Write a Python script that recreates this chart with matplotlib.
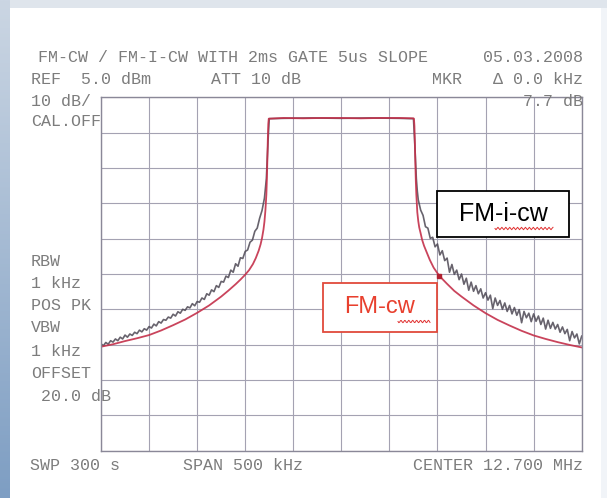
import matplotlib
matplotlib.use('Agg')
import matplotlib.pyplot as plt
from matplotlib.patches import Rectangle
import numpy as np

# trace data, offset from center frequency in kHz and level in dBm
red_khz = [-250, -237.5, -225, -212.5, -200, -187.5, -175, -162.5, -150, -137.5,
           -125, -117.5, -110, -105, -100, -96, -92, -89, -86, -84,
           -82.5, -81, -80, -79, -78, -77.5, -77, -76.5, -76, -75.5,
           -60, -40, -20, 0, 20, 40, 60, 75,
           75.5, 76, 76.5, 77, 77.5, 78, 79, 80, 81, 82.5,
           84, 86, 89, 92, 96, 100, 105, 110, 117.5, 125,
           137.5, 150, 162.5, 175, 187.5, 200, 212.5, 225, 237.5, 250]
red_dbm = [-65.6, -64.9, -64.0, -63.2, -62.3, -61.0, -59.5, -57.9, -56.0, -53.9,
           -51.4, -49.7, -47.9, -46.6, -45.2, -43.9, -42.2, -40.5, -38.4, -36.6,
           -34.8, -32.4, -30.2, -27.0, -22.5, -18.5, -13.0, -7.0, -2.5, -1.0,
           -0.8, -0.9, -0.8, -0.8, -0.9, -0.8, -0.8, -0.9,
           -1.0, -3.0, -8.0, -14.0, -19.0, -22.5, -27.5, -30.0, -31.8, -33.5,
           -35.3, -37.0, -39.0, -41.0, -43.2, -44.8, -46.4, -47.8, -49.8, -51.4,
           -53.9, -56.1, -58.0, -59.6, -61.1, -62.4, -63.4, -64.3, -65.1, -65.8]

gray_left_khz = [-250, -247.5, -245, -242.5, -240, -237.5, -235, -232.5, -230, -227.5,
                 -225, -222.5, -220, -217.5, -215, -212.5, -210, -207.5, -205, -202.5,
                 -200, -197.5, -195, -192.5, -190, -187.5, -185, -182.5, -180, -177.5,
                 -175, -172.5, -170, -167.5, -165, -162.5, -160, -157.5, -155, -152.5,
                 -150, -147.5, -145, -142.5, -140, -137.5, -135, -132.5, -130, -127.5,
                 -125, -122.5, -120, -117.5, -115, -112.5, -110, -107.5, -105, -102.5,
                 -100, -97.5, -95, -92.5, -90, -87.5, -85, -82.5, -80, -78,
                 -77, -76, -75]
gray_left_dbm = [-64.8, -65.3, -64.4, -64.9, -63.9, -64.3, -63.4, -63.9, -62.9, -63.4,
                 -62.3, -62.9, -62.0, -62.4, -61.5, -61.9, -60.9, -61.4, -60.5, -60.9,
                 -59.9, -60.3, -59.2, -59.7, -58.5, -58.9, -57.9, -58.1, -57.2, -57.5,
                 -56.4, -56.9, -55.7, -56.1, -55.0, -55.3, -54.3, -54.6, -53.4, -54.0,
                 -52.8, -53.0, -51.8, -52.2, -50.6, -51.0, -49.5, -50.0, -48.3, -48.8,
                 -47.1, -47.3, -45.6, -46.0, -43.9, -44.5, -42.1, -42.8, -40.4, -40.6,
                 -38.6, -38.2, -36.0, -35.4, -32.9, -32.0, -29.2, -27.0, -23.5, -18.0,
                 -12.0, -6.0, -1.0]

gray_top_khz = [-60, -30, 0, 30, 60]
gray_top_dbm = [-0.9, -0.8, -0.9, -0.8, -0.9]

gray_right_khz = [75, 76, 77, 78, 79, 80, 82.5, 85, 87.5, 90,
                  92.5, 95, 97.5, 100, 102.5, 105, 107.5, 110, 112.5, 115,
                  117.5, 120, 122.5, 125, 127.5, 130, 132.5, 135, 137.5, 140,
                  142.5, 145, 147.5, 150, 152.5, 155, 157.5, 160, 162.5, 165,
                  167.5, 170, 172.5, 175, 177.5, 180, 182.5, 185, 187.5, 190,
                  192.5, 195, 197.5, 200, 202.5, 205, 207.5, 210, 212.5, 215,
                  217.5, 220, 222.5, 225, 227.5, 230, 232.5, 235, 237.5, 240,
                  242.5, 245, 247.5, 250]
gray_right_dbm = [-1.0, -6.0, -12.0, -18.0, -21.5, -24.0, -26.9, -28.4, -31.6, -32.0,
                  -34.9, -34.6, -37.3, -36.5, -39.6, -38.4, -41.2, -40.5, -44.5, -42.3,
                  -45.1, -43.9, -46.6, -45.0, -47.9, -46.2, -49.6, -47.3, -49.9, -48.3,
                  -50.6, -49.2, -51.8, -50.3, -52.4, -51.0, -54.8, -51.8, -53.9, -52.5,
                  -55.0, -53.2, -55.6, -53.9, -56.3, -54.5, -56.7, -55.1, -58.8, -55.6,
                  -57.4, -56.1, -58.5, -56.3, -58.4, -56.9, -59.3, -57.5, -60.6, -58.1,
                  -60.4, -58.7, -60.6, -59.3, -61.5, -60.0, -61.9, -60.7, -63.9, -61.3,
                  -63.1, -62.0, -64.8, -62.6]

marker_khz = [102]
marker_dbm = [-45.5]

W, H = 607, 498
def fx(x): return x / W
def fy(y): return 1 - y / H

fig = plt.figure(figsize=(W / 100, H / 100), dpi=100, facecolor='white')

# scanned page background: blue strip left, grey strip on top
bg = fig.add_axes([0, 0, 1, 1], zorder=-10)
bg.set_xlim(0, W); bg.set_ylim(H, 0); bg.axis('off')
grad = np.linspace(0, 1, 200).reshape(-1, 1)
bg.imshow(grad, extent=(0, 10, H, 0), cmap=matplotlib.colors.LinearSegmentedColormap.from_list('s', ['#cbd6e3', '#7e9ec3']), aspect='auto')
bg.add_patch(Rectangle((10, 0), W - 10, 8, color='#dfe5ec', lw=0))
bg.add_patch(Rectangle((W - 6, 8), 6, H - 8, color='#f1f4f8', lw=0))

gl, gr, gt, gb = 101, 581.7, 97.5, 450.5
ax = fig.add_axes([fx(gl), fy(gb), fx(gr - gl), (gb - gt) / H])
ax.set_xlim(-250, 250)
ax.set_ylim(-95, 5)
ax.set_xticks(np.arange(-250, 251, 50))
ax.set_yticks(np.arange(-95, 6, 10))
ax.tick_params(length=0, labelbottom=False, labelleft=False)
ax.grid(True, color='#a4a2b2', lw=0.8)
for s in ax.spines.values():
    s.set_color('#8a8898')
    s.set_linewidth(1.0)
ax.set_facecolor('none')

gray = '#4d4854'
ax.plot(gray_left_khz + gray_top_khz + gray_right_khz,
        gray_left_dbm + gray_top_dbm + gray_right_dbm, color=gray, lw=1.2, alpha=0.85)
ax.plot(red_khz, red_dbm, color='#c4304a', lw=1.3, alpha=0.9)
ax.plot(marker_khz, marker_dbm, 's', color='#b02030', ms=2.5)

# printer header / side texts
mono = dict(family='Liberation Mono', fontsize=12, color='#7c7c7c', va='center')
fig.text(fx(38), fy(58), 'FM-CW / FM-I-CW WITH 2ms GATE 5us SLOPE', **mono)
fig.text(fx(583), fy(58), '05.03.2008', ha='right', **mono)
fig.text(fx(31), fy(80), 'REF  5.0 dBm', **mono)
fig.text(fx(211), fy(80), 'ATT 10 dB', **mono)
fig.text(fx(432), fy(80), 'MKR', **mono)
fig.text(fx(583), fy(80), 'Δ 0.0 kHz', ha='right', **mono)
fig.text(fx(31), fy(101), '10 dB/', **mono)
fig.text(fx(583), fy(101), '7.7 dB', ha='right', **mono)
fig.text(fx(31), fy(122), 'CAL.OFF', **mono)
side = ['RBW', '1 kHz', 'POS PK', 'VBW', '1 kHz', 'OFFSET', ' 20.0 dB']
side_y = [261, 284, 306, 328, 351, 373, 396]
for t, y in zip(side, side_y):
    fig.text(fx(31), fy(y), t, **mono)
fig.text(fx(30), fy(465), 'SWP 300 s', **mono)
fig.text(fx(183), fy(465), 'SPAN 500 kHz', **mono)
fig.text(fx(583), fy(465), 'CENTER 12.700 MHz', ha='right', **mono)

# legend boxes pasted on the scan
ov = fig.add_axes([0, 0, 1, 1], zorder=10)
ov.set_xlim(0, W); ov.set_ylim(H, 0); ov.axis('off')
ov.add_patch(Rectangle((437, 190.7), 132, 46.6, fc='white', ec='black', lw=1.3))
ov.text(503, 214, 'FM-i-cw', family='Liberation Sans', fontsize=18, ha='center', va='center', color='black')
ov.add_patch(Rectangle((322.7, 282.7), 114.6, 49.3, fc='white', ec='#e04a3c', lw=1.3))
ov.text(380, 307, 'FM-cw', family='Liberation Sans', fontsize=17, ha='center', va='center', color='#e8402e')

# spell-check squiggles
sx = np.linspace(495, 553, 60)
ov.plot(sx, 228.5 + 1.2 * np.sin((sx - 495) * 1.6), color='#e03030', lw=0.7)
sx = np.linspace(398, 430, 40)
ov.plot(sx, 321.5 + 1.2 * np.sin((sx - 398) * 1.6), color='#e03030', lw=0.7)

fig.savefig('out.png', dpi=100)
